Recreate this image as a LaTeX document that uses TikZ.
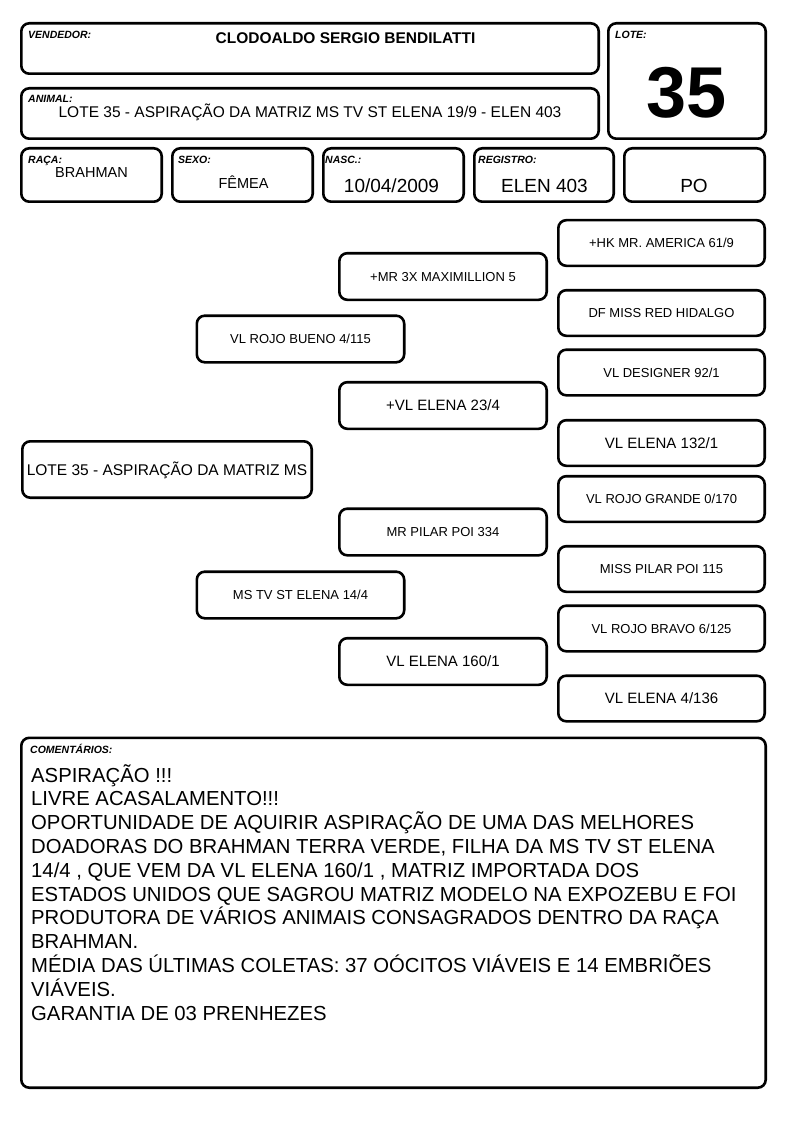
\documentclass[tikz,border=0pt]{standalone}
\usepackage{fontspec}
\setmainfont{Liberation Sans}
\begin{document}
\begin{tikzpicture}[x=1pt,y=-1pt,
  card/.style={draw=black, line width=2.6pt, rounded corners=8pt, inner sep=0pt, fill=white},
  lbl/.style={font=\fontsize{10.5}{12}\selectfont\bfseries\itshape, anchor=base west, inner sep=0pt},
  val/.style={anchor=base, inner sep=0pt},
  pedr/.style={card, minimum width=206.4pt, minimum height=45.6pt, font=\fontsize{13}{15}\selectfont, text height=9.3pt, text depth=0pt},
  pedm/.style={card, minimum width=207.4pt, minimum height=46.6pt, font=\fontsize{13}{15}\selectfont, text height=9.3pt, text depth=0pt},
  big/.style={font=\fontsize{15}{17}\selectfont, text height=10.74pt},
  cline/.style={anchor=base west, inner sep=0pt, font=\fontsize{20.3}{24}\selectfont}
]
\useasboundingbox[fill=white] (0,0) rectangle (794,1123);

% header boxes
\node[card, minimum width=577.4pt, minimum height=50.4pt] (vend) at (310,48.5) {};
\node[card, minimum width=577.4pt, minimum height=50.4pt] (anim) at (310,113.5) {};
\node[card, minimum width=157.4pt, minimum height=115.4pt] (lote) at (687,81) {};
\node[card, minimum width=140.4pt, minimum height=53.4pt] (raca) at (91.5,175) {};
\node[card, minimum width=140.4pt, minimum height=53.4pt] (sexo) at (242.5,175) {};
\node[card, minimum width=140.4pt, minimum height=53.4pt] (nasc) at (393.5,175) {};
\node[card, minimum width=139.4pt, minimum height=53.4pt] (reg) at (544,175) {};
\node[card, minimum width=140.4pt, minimum height=53.4pt] (po) at (694.5,175) {};

% header labels
\node[lbl] (lvend) at (28,39) {VENDEDOR:};
\node[lbl] (lanim) at (28,103) {ANIMAL:};
\node[lbl] (llote) at (615,39) {LOTE:};
\node[lbl] (lraca) at (28,164) {RAÇA:};
\node[lbl] (lsexo) at (178,164) {SEXO:};
\node[lbl] (lnasc) at (325,164) {NASC.:};
\node[lbl] (lreg) at (478,164) {REGISTRO:};

% header values
\node[val, font=\fontsize{15.5}{18}\selectfont\bfseries] (vvend) at (345.5,43.5) {CLODOALDO SERGIO BENDILATTI};
\node[val, font=\fontsize{15.5}{18}\selectfont] (vanim) at (310,118) {LOTE 35 - ASPIRAÇÃO DA MATRIZ MS TV ST ELENA 19/9 - ELEN 403};
\node[val, font=\fontsize{72}{80}\selectfont\bfseries] (vlote) at (687,118) {35};
\node[val, font=\fontsize{14.5}{17}\selectfont] (vraca) at (91.5,178) {BRAHMAN};
\node[val, font=\fontsize{14.5}{17}\selectfont] (vsexo) at (243.5,189) {FÊMEA};
\node[val, font=\fontsize{19}{22}\selectfont] (vnasc) at (391.5,193) {10/04/2009};
\node[val, font=\fontsize{19}{22}\selectfont] (vreg) at (544.5,193) {ELEN 403};
\node[val, font=\fontsize{19}{22}\selectfont] (vpo) at (694,193) {PO};

% pedigree - right column
\node[pedr] (r1) at (661.5,243) {+HK MR. AMERICA 61/9};
\node[pedr] (r2) at (661.5,313) {DF MISS RED HIDALGO};
\node[pedr] (r3) at (661.5,372.5) {VL DESIGNER 92/1};
\node[pedr, big] (r4) at (661.5,443) {VL ELENA 132/1};
\node[pedr] (r5) at (661.5,499) {VL ROJO GRANDE 0/170};
\node[pedr] (r6) at (661.5,569) {MISS PILAR POI 115};
\node[pedr] (r7) at (661.5,628.5) {VL ROJO BRAVO 6/125};
\node[pedr, big] (r8) at (661.5,698.5) {VL ELENA 4/136};

% middle column
\node[pedm] (m1) at (443,276.5) {+MR 3X MAXIMILLION 5};
\node[pedm, big] (m2) at (443,405.5) {+VL ELENA 23/4};
\node[pedm] (m3) at (443,532) {MR PILAR POI 334};
\node[pedm, big] (m4) at (443,661.5) {VL ELENA 160/1};

% left column
\node[pedm] (l1) at (300.5,339) {VL ROJO BUENO 4/115};
\node[pedm] (l2) at (300.5,595) {MS TV ST ELENA 14/4};

% root
\node[card, minimum width=289.4pt, minimum height=56.4pt, font=\fontsize{15.5}{18}\selectfont, text height=11.1pt, text depth=0pt] (root) at (167,469.5) {LOTE 35 - ASPIRAÇÃO DA MATRIZ MS};

% comments
\node[card, minimum width=744.4pt, minimum height=349.9pt] (comm) at (393.5,912.75) {};
\node[lbl] (lcomm) at (30,753) {COMENTÁRIOS:};
\node[cline] (c1) at (31,782) {ASPIRAÇÃO !!!};
\node[cline] (c2) at (31,805.8) {LIVRE ACASALAMENTO!!!};
\node[cline] (c3) at (31,829.6) {OPORTUNIDADE DE AQUIRIR ASPIRAÇÃO DE UMA DAS MELHORES};
\node[cline] (c4) at (31,853.4) {DOADORAS DO BRAHMAN TERRA VERDE, FILHA DA MS TV ST ELENA};
\node[cline] (c5) at (31,877.2) {14/4 , QUE VEM DA VL ELENA 160/1 , MATRIZ IMPORTADA DOS};
\node[cline] (c6) at (31,901) {ESTADOS UNIDOS QUE SAGROU MATRIZ MODELO NA EXPOZEBU E FOI};
\node[cline] (c7) at (31,924.8) {PRODUTORA DE VÁRIOS ANIMAIS CONSAGRADOS DENTRO DA RAÇA};
\node[cline] (c8) at (31,948.6) {BRAHMAN.};
\node[cline] (c9) at (31,972.4) {MÉDIA DAS ÚLTIMAS COLETAS: 37 OÓCITOS VIÁVEIS E 14 EMBRIÕES};
\node[cline] (c10) at (31,996.2) {VIÁVEIS.};
\node[cline] (c11) at (31,1020) {GARANTIA DE 03 PRENHEZES};
\end{tikzpicture}
\end{document}
